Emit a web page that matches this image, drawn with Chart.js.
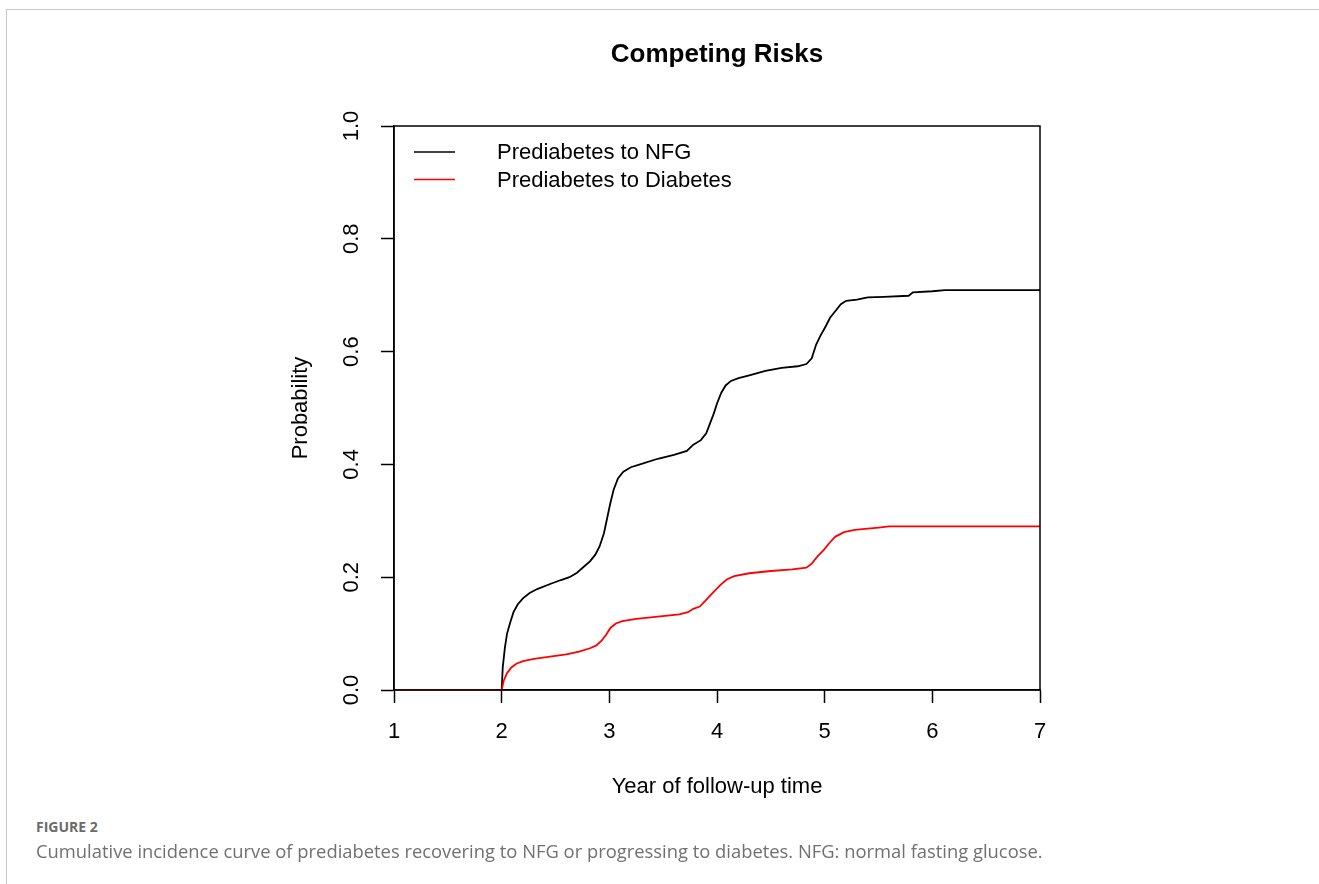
<!DOCTYPE html>
<html>
<head>
<meta charset="utf-8">
<script src="https://cdn.jsdelivr.net/npm/chart.js@4.4.1/dist/chart.umd.min.js"></script>
<style>
  html, body { margin: 0; padding: 0; background: #fff; overflow: hidden; }
  body { width: 1319px; height: 884px; position: relative; }
  .frame { position: absolute; left: 6px; top: 9px; width: 1313px; height: 875px;
           border-top: 1px solid #c8c8c8; border-left: 1px solid #c8c8c8; }
  #chart { position: absolute; left: 115px; top: 0; }
  .fig { position: absolute; left: 36px; top: 817px; font: bold 14px "Open Sans", "Noto Sans", sans-serif; color: #6b6b6b; }
  .cap { position: absolute; left: 36px; top: 838px; font: 18.5px "Open Sans", "Noto Sans", sans-serif; color: #707070;
         white-space: nowrap; transform-origin: 0 0; }
</style>
</head>
<body>
<div class="frame"></div>
<canvas id="chart" width="1204" height="884"></canvas>
<div class="fig">FIGURE 2</div>
<div class="cap" id="cap">Cumulative incidence curve of prediabetes recovering to NFG or progressing to diabetes. NFG: normal fasting glucose.</div>
<script>
// data
const seriesNames = ['Prediabetes to NFG', 'Prediabetes to Diabetes']
const nfgTime = [1, 2.0, 2.01, 2.03, 2.05, 2.08, 2.11, 2.15, 2.2, 2.26, 2.33, 2.45, 2.55, 2.63, 2.7, 2.76, 2.82, 2.87, 2.91, 2.95, 2.98, 3.01, 3.04, 3.08, 3.13, 3.2, 3.3, 3.45, 3.6, 3.72, 3.78, 3.85, 3.9, 3.93, 3.97, 4.0, 4.04, 4.08, 4.13, 4.2, 4.3, 4.45, 4.6, 4.75, 4.83, 4.88, 4.92, 4.96, 5.01, 5.05, 5.1, 5.15, 5.2, 5.3, 5.4, 5.55, 5.78, 5.82, 6.0, 6.12, 7]
const nfgProb = [0, 0, 0.04, 0.075, 0.1, 0.12, 0.138, 0.152, 0.163, 0.172, 0.179, 0.188, 0.195, 0.2, 0.208, 0.218, 0.228, 0.24, 0.255, 0.278, 0.305, 0.332, 0.355, 0.375, 0.387, 0.395, 0.401, 0.41, 0.417, 0.424, 0.435, 0.443, 0.455, 0.47, 0.49, 0.508, 0.527, 0.54, 0.548, 0.553, 0.558, 0.566, 0.571, 0.574, 0.578, 0.588, 0.612, 0.628, 0.645, 0.66, 0.672, 0.684, 0.69, 0.692, 0.696, 0.697, 0.699, 0.705, 0.707, 0.709, 0.709]
const diabTime = [1, 2.0, 2.02, 2.05, 2.09, 2.14, 2.2, 2.3, 2.45, 2.6, 2.72, 2.82, 2.88, 2.93, 2.97, 3.01, 3.06, 3.12, 3.25, 3.45, 3.65, 3.73, 3.78, 3.84, 3.9, 3.96, 4.03, 4.09, 4.16, 4.3, 4.5, 4.7, 4.83, 4.88, 4.93, 4.99, 5.05, 5.1, 5.18, 5.28, 5.4, 5.5, 5.6, 7]
const diabProb = [0, 0, 0.017, 0.03, 0.04, 0.047, 0.051, 0.055, 0.059, 0.063, 0.068, 0.074, 0.079, 0.088, 0.098, 0.11, 0.118, 0.122, 0.126, 0.13, 0.134, 0.138, 0.144, 0.148, 0.16, 0.172, 0.186, 0.196, 0.202, 0.207, 0.211, 0.214, 0.217, 0.224, 0.236, 0.248, 0.262, 0.272, 0.28, 0.284, 0.286, 0.288, 0.29, 0.29]
const xTicks = [1, 2, 3, 4, 5, 6, 7]
const yTicks = [0, 0.2, 0.4, 0.6, 0.8, 1.0]

const toPoints = (xs, ys) => xs.map((x, i) => ({ x: x, y: ys[i] }))

// box round the plot + legend in the top left corner
const boxAndLegend = {
    id: 'boxAndLegend',
    afterDatasetsDraw(chart) {
        const { ctx, chartArea: a } = chart
        ctx.save()
        ctx.strokeStyle = '#000'
        ctx.lineWidth = 1.5
        ctx.strokeRect(a.left, a.top, a.right - a.left, a.bottom - a.top)
        ctx.font = '22px "Liberation Sans", Arial, sans-serif'
        ctx.textBaseline = 'middle'
        ctx.fillStyle = '#000'
        chart.data.datasets.forEach((ds, i) => {
            const y = a.top + 26 + i * 27.5
            ctx.strokeStyle = ds.borderColor
            ctx.beginPath()
            ctx.moveTo(a.left + 20, y)
            ctx.lineTo(a.left + 61, y)
            ctx.stroke()
            ctx.fillText(ds.label, a.left + 103, y + 1)
        })
        ctx.restore()
    }
}

const axisFont = { family: '"Liberation Sans", Arial, sans-serif', size: 22 }

new Chart(document.getElementById('chart'), {
    type: 'line',
    data: {
        datasets: [{
            label: seriesNames[0],
            data: toPoints(nfgTime, nfgProb),
            borderColor: '#000000',
            borderWidth: 1.8,
            pointRadius: 0,
            tension: 0,
            order: 1
        }, {
            label: seriesNames[1],
            data: toPoints(diabTime, diabProb),
            borderColor: '#ff0000',
            borderWidth: 1.8,
            pointRadius: 0,
            tension: 0,
            order: 0
        }]
    },
    options: {
        responsive: false,
        animation: false,
        layout: { padding: { left: 0, right: 279, top: 0, bottom: 74 } },
        plugins: {
            legend: { display: false },
            tooltip: { enabled: false },
            title: {
                display: true,
                fullSize: false,
                text: 'Competing Risks',
                color: '#000',
                font: { family: '"Liberation Sans", Arial, sans-serif', size: 26, weight: 'bold' },
                padding: { top: 39, bottom: 55.8 }
            }
        },
        scales: {
            x: {
                type: 'linear',
                min: 1,
                max: 7,
                afterBuildTicks: s => { s.ticks = xTicks.map(v => ({ value: v })) },
                afterFit: s => { s.height = 120 },
                grid: { drawOnChartArea: false, drawTicks: true, tickLength: 13, tickColor: '#000', tickWidth: 1.5 },
                border: { display: true, color: '#000', width: 1.5 },
                ticks: { color: '#000', font: axisFont, padding: 16, maxRotation: 0 },
                title: { display: true, text: 'Year of follow-up time', color: '#000', font: axisFont, padding: { top: 0, bottom: 9.8 } }
            },
            y: {
                min: 0,
                max: 1,
                afterBuildTicks: s => { s.ticks = yTicks.map(v => ({ value: v })) },
                afterFit: s => { s.width = 279 },
                grid: { drawOnChartArea: false, drawTicks: true, tickLength: 13, tickColor: '#000', tickWidth: 1.5 },
                border: { display: true, color: '#000', width: 1.5 },
                ticks: {
                    color: '#000', font: axisFont, padding: 13.7,
                    minRotation: 90, maxRotation: 90, crossAlign: 'center',
                    callback: v => v.toFixed(1)
                },
                title: { display: true, text: 'Probability', color: '#000', font: axisFont, padding: { top: 173, bottom: 0 } }
            }
        }
    },
    plugins: [boxAndLegend]
})

// stretch the caption to its width in the figure
const cap = document.getElementById('cap')
cap.style.transform = 'scaleX(' + (1007 / cap.offsetWidth) + ')'
</script>
</body>
</html>
